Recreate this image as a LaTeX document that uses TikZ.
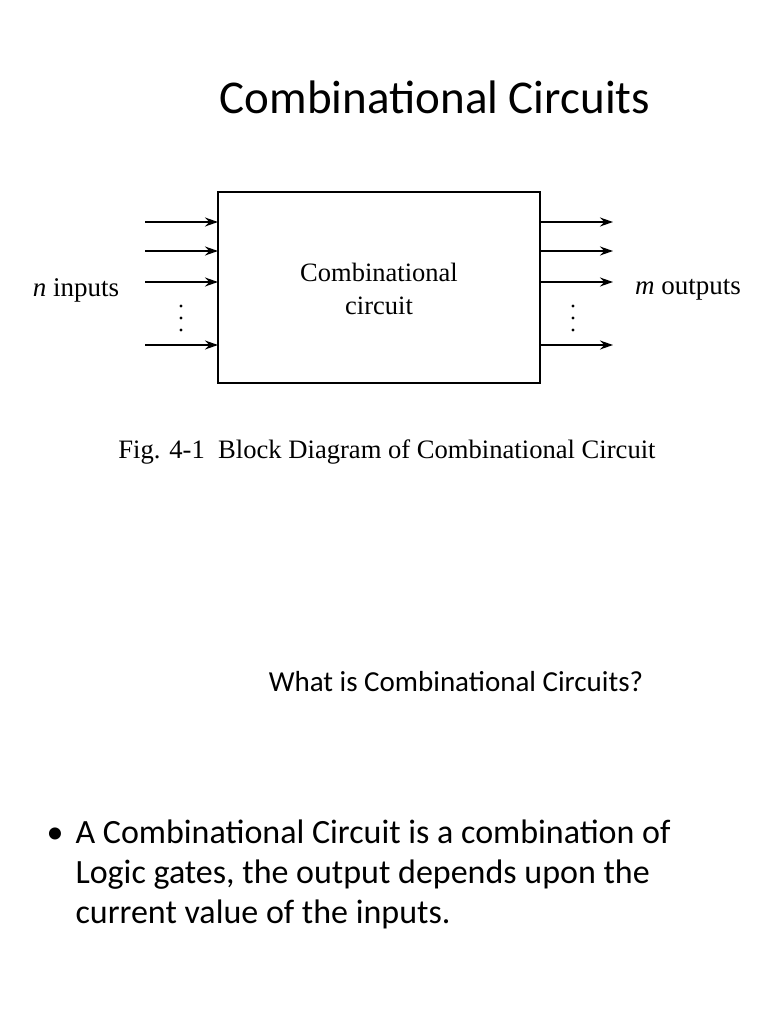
\documentclass[tikz,border=0pt]{standalone}
\usepackage{fontspec}
\setmainfont{Liberation Serif}
\newfontfamily\slidefont{Carlito}
\usetikzlibrary{arrows.meta,positioning}
\tikzset{
  sig/.style={line width=1.4pt,-{Stealth[length=13pt,width=9pt]}},
  sans/.style={font=\slidefont\fontsize{#1}{#1}\selectfont},
  serif/.style={font=\fontsize{#1}{#1}\selectfont}
}
\begin{document}
\begin{tikzpicture}[x=1pt,y=-1pt]
\useasboundingbox (0,0) rectangle (768,1024);
\node [sans=47] (title) at (435,97) {Combinational Circuits};
    \draw [line width=1.4pt] (218,192) rectangle (540,383);
    \node [serif=26.5,align=center] (label) at (379,289) {Combinational\\[6pt]circuit};
\foreach \y [count=\i] in {222,251,282,345} {
    \coordinate (in\i) at (145,\y);
    \coordinate (inb\i) at (218,\y);
    \draw [sig] (in\i) -- (inb\i);
    \coordinate (out\i) at (540,\y);
    \coordinate (outb\i) at (613,\y);
    \draw [sig] (out\i) -- (outb\i);
}
\foreach \x in {181,573}
  \foreach \y in {306,318,330}
    \fill (\x,\y) circle (1.6);
\node [serif=27] (ninputs) at (76,290) {\textit{n} inputs};
\node [serif=27] (moutputs) at (688,290) {\textit{m} outputs};
\node [serif=26.6] (caption) at (387,452) {Fig. 4-1\ \ Block Diagram of Combinational Circuit};
\node [sans=29] (question) at (456,682) {What is Combinational Circuits?};
\node [sans=34] (bullet) at (55,836) {•};
\node [sans=34,anchor=north west,align=left] (text) at (72,816)
  {A Combinational Circuit is a combination of\\[6pt]Logic gates, the output depends upon the\\[6pt]current value of the inputs.};
\end{tikzpicture}
\end{document}
